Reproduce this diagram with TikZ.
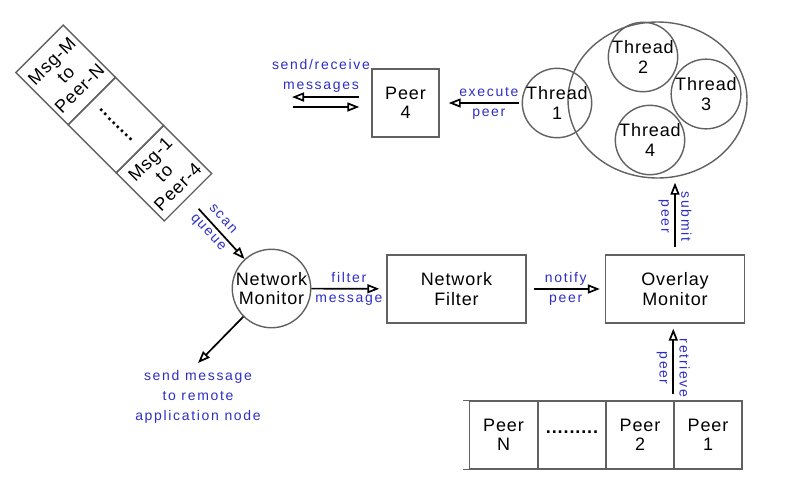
\documentclass[tikz,border=0pt]{standalone}
\usepackage{fontspec}
\newfontfamily\diagfont[LetterSpace=5]{Liberation Sans}
\newfontfamily\notefont[LetterSpace=12]{Liberation Sans}
\usetikzlibrary{arrows.meta,shapes.geometric}
\definecolor{EdgeClr}{rgb}{0.38,0.38,0.38}
\definecolor{NoteClr}{rgb}{0.18,0.18,0.78}

\begin{document}
\begin{tikzpicture}[x=1pt,y=-1pt,
  box/.style={draw=EdgeClr,line width=1.4pt,minimum width=139pt,minimum height=68pt,inner sep=0pt,align=center,font=\diagfont\fontsize{18}{19.5}\selectfont},
  cell/.style={box,minimum width=68pt},
  thread/.style={draw=EdgeClr,line width=1.4pt,circle,minimum size=68pt,inner sep=0pt,align=center,font=\diagfont\fontsize{18}{19.5}\selectfont},
  note/.style={text=NoteClr,align=center,inner sep=0pt,font=\notefont\fontsize{14}{20}\selectfont},
  dots/.style={inner sep=0pt,font=\diagfont\bfseries\fontsize{18}{19.5}\selectfont},
  flow/.style={line width=1.7pt,-{Triangle[open,length=12pt,width=9pt]}}]
\useasboundingbox (0,0) rectangle (799,499);

\begin{scope}[shift={(113.75,123)},rotate=45,transform shape]
\node[box,minimum width=67pt,minimum height=74pt] (msgm) at (0,-68) {Msg-M\\to\\Peer-N};
\node[box,minimum width=67pt] (qdotcell) at (0,3) {};
\node[box,minimum width=67pt] (msg1) at (0,71) {Msg-1\\to\\Peer-4};
\node[dots,rotate=-90] (qdots) at (qdotcell) {........};
\end{scope}

\node[box,minimum width=67pt] (peer4) at (405.5,103) {Peer\\4};
\coordinate (msgout) at (292,97);
\coordinate (msgin) at (293,107);
\draw[flow,shorten <=12pt] (peer4.west |- msgout) -- (msgout);
\draw[flow,shorten >=12pt] (msgin) -- (peer4.west |- msgin);
\node[note] (srlbl) at (321,76) {send/receive\\messages};

\node[draw=EdgeClr,line width=1.4pt,ellipse,minimum width=179pt,minimum height=156pt] (pool) at (657.5,100) {};
\node[thread] (t1) at (557,103) {Thread\\1};
\node[thread] (t2) at (643,57) {Thread\\2};
\node[thread] (t3) at (706,94) {Thread\\3};
\node[thread] (t4) at (650,140) {Thread\\4};
\draw[flow,shorten <=3pt,shorten >=9pt] (t1) -- node[note,pos=0.4] (execlbl) {execute\\peer} (peer4);

\node[thread,minimum size=76pt] (netmon) at (271.5,288.5) {Network\\Monitor};
\node[box] (netfilt) at (456.5,289) {Network\\Filter};
\node[box] (overlay) at (675,289) {Overlay\\Monitor};

\draw[flow,shorten <=15pt] (msg1.south) -- node[note,sloped,pos=0.47] (scanlbl) {scan\\queue} (netmon);
\draw[flow,shorten >=7pt] (netmon) -- node[note] (filtlbl) {filter\\message} (netfilt);
\draw[flow,shorten <=7pt,shorten >=5pt] (netfilt) -- node[note] (notelbl) {notify\\peer} (overlay);
\draw[flow,shorten <=7pt,shorten >=4pt] (overlay.north) -- node[note,rotate=-90] (submitlbl) {submit\\peer} (overlay.north |- pool.south);

\coordinate (sendto) at (198,363);
\draw[flow] (netmon.south west) -- (sendto);
\node[note] (sendlbl) at (198,397) {send message\\to remote\\application node};

\node[cell] (pN) at (503.5,435) {Peer\\N};
\node[cell] (pdots) at (572,435) {};
\node[dots] (pdotstxt) at (572,432) {.........};
\node[cell] (p2) at (640,435) {Peer\\2};
\node[cell] (p1) at (708,435) {Peer\\1};
\draw[EdgeClr,line width=1.4pt] (pN.north west) -- ++(-6,0) (pN.south west) -- ++(-6,0);
\draw[flow,shorten <=6pt,shorten >=5pt] (p1.north west) -- node[note,rotate=-90,pos=0.42] (retrlbl) {retrieve\\peer} (p1.north west |- overlay.south);

\end{tikzpicture}
\end{document}
